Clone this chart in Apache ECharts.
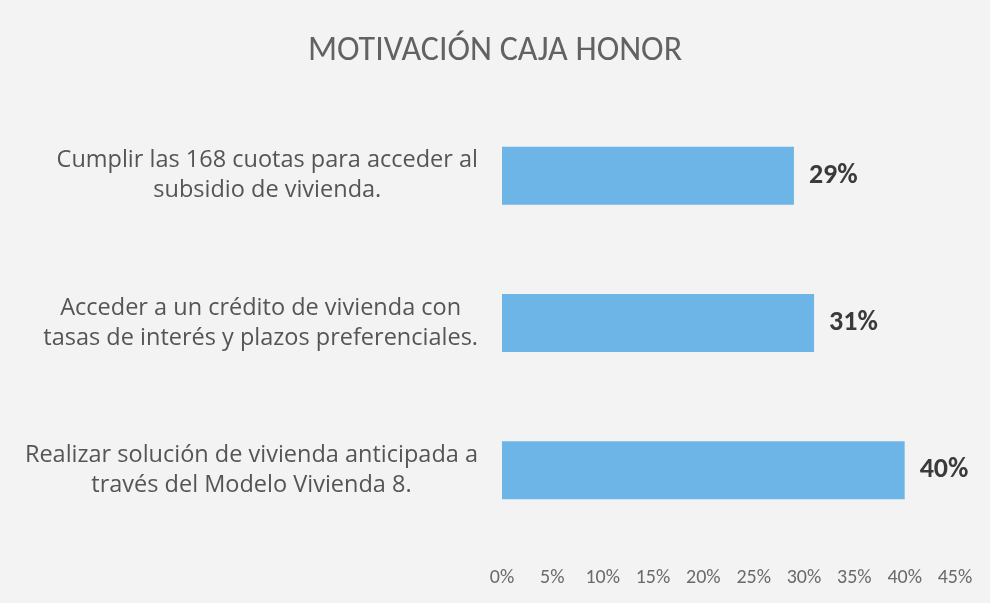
<!DOCTYPE html>
<html>
<head>
<meta charset="utf-8">
<script src="https://cdn.jsdelivr.net/npm/echarts@6/dist/echarts.min.js"></script>
<style>
  html, body { margin: 0; padding: 0; background: #f3f3f3; }
  #chart { width: 990px; height: 603px; }
</style>
</head>
<body>
<div id="chart"></div>
<script>
// categories from top to bottom as seen in the picture
const categories = [
    'Cumplir las 168 cuotas para acceder al\nsubsidio de vivienda.',
    'Acceder a un crédito de vivienda con\ntasas de interés y plazos preferenciales.',
    'Realizar solución de vivienda anticipada a\ntravés del Modelo Vivienda 8.'
];
const values = [29, 31, 40];
const xTicks = [0, 5, 10, 15, 20, 25, 30, 35, 40, 45];

const font = 'Carlito, Lato, "Open Sans", sans-serif';
const labelFont = '"Open Sans", Lato, sans-serif';

let chart = echarts.init(document.getElementById('chart'));

let option = {
    backgroundColor: '#f3f3f3',
    title: {
        text: 'MOTIVACIÓN CAJA HONOR',
        left: 'center',
        top: 29,
        textStyle: {
            fontFamily: font,
            fontSize: 34,
            fontWeight: 'normal',
            color: '#626262'
        }
    },
    grid: {
        left: 502,
        right: 35,
        top: 102,
        bottom: 59
    },
    xAxis: {
        type: 'value',
        min: xTicks[0],
        max: xTicks[xTicks.length - 1],
        interval: 5,
        axisLine: { show: false },
        axisTick: { show: false },
        splitLine: { show: false },
        axisLabel: {
            margin: 24,
            fontFamily: font,
            fontSize: 20,
            color: '#6a6a6a',
            formatter: v => v + '%'
        }
    },
    yAxis: {
        type: 'category',
        inverse: true,
        data: categories,
        axisLine: { show: false },
        axisTick: { show: false },
        axisLabel: {
            margin: 24,
            formatter: v => v.split('\n').map(l => '{c|' + l + '}').join('\n'),
            rich: {
                c: {
                    align: 'center',
                    fontFamily: labelFont,
                    fontSize: 23.5,
                    lineHeight: 30,
                    color: '#555555'
                }
            }
        }
    },
    series: [{
        type: 'bar',
        data: values,
        barWidth: 58,
        itemStyle: { color: '#6cb5e6' },
        label: {
            show: true,
            position: 'right',
            distance: 15,
            formatter: p => p.value + '%',
            fontFamily: font,
            fontSize: 28,
            fontWeight: 'bold',
            color: '#3a3a3a'
        }
    }]
};

chart.setOption(option);
</script>
</body>
</html>
